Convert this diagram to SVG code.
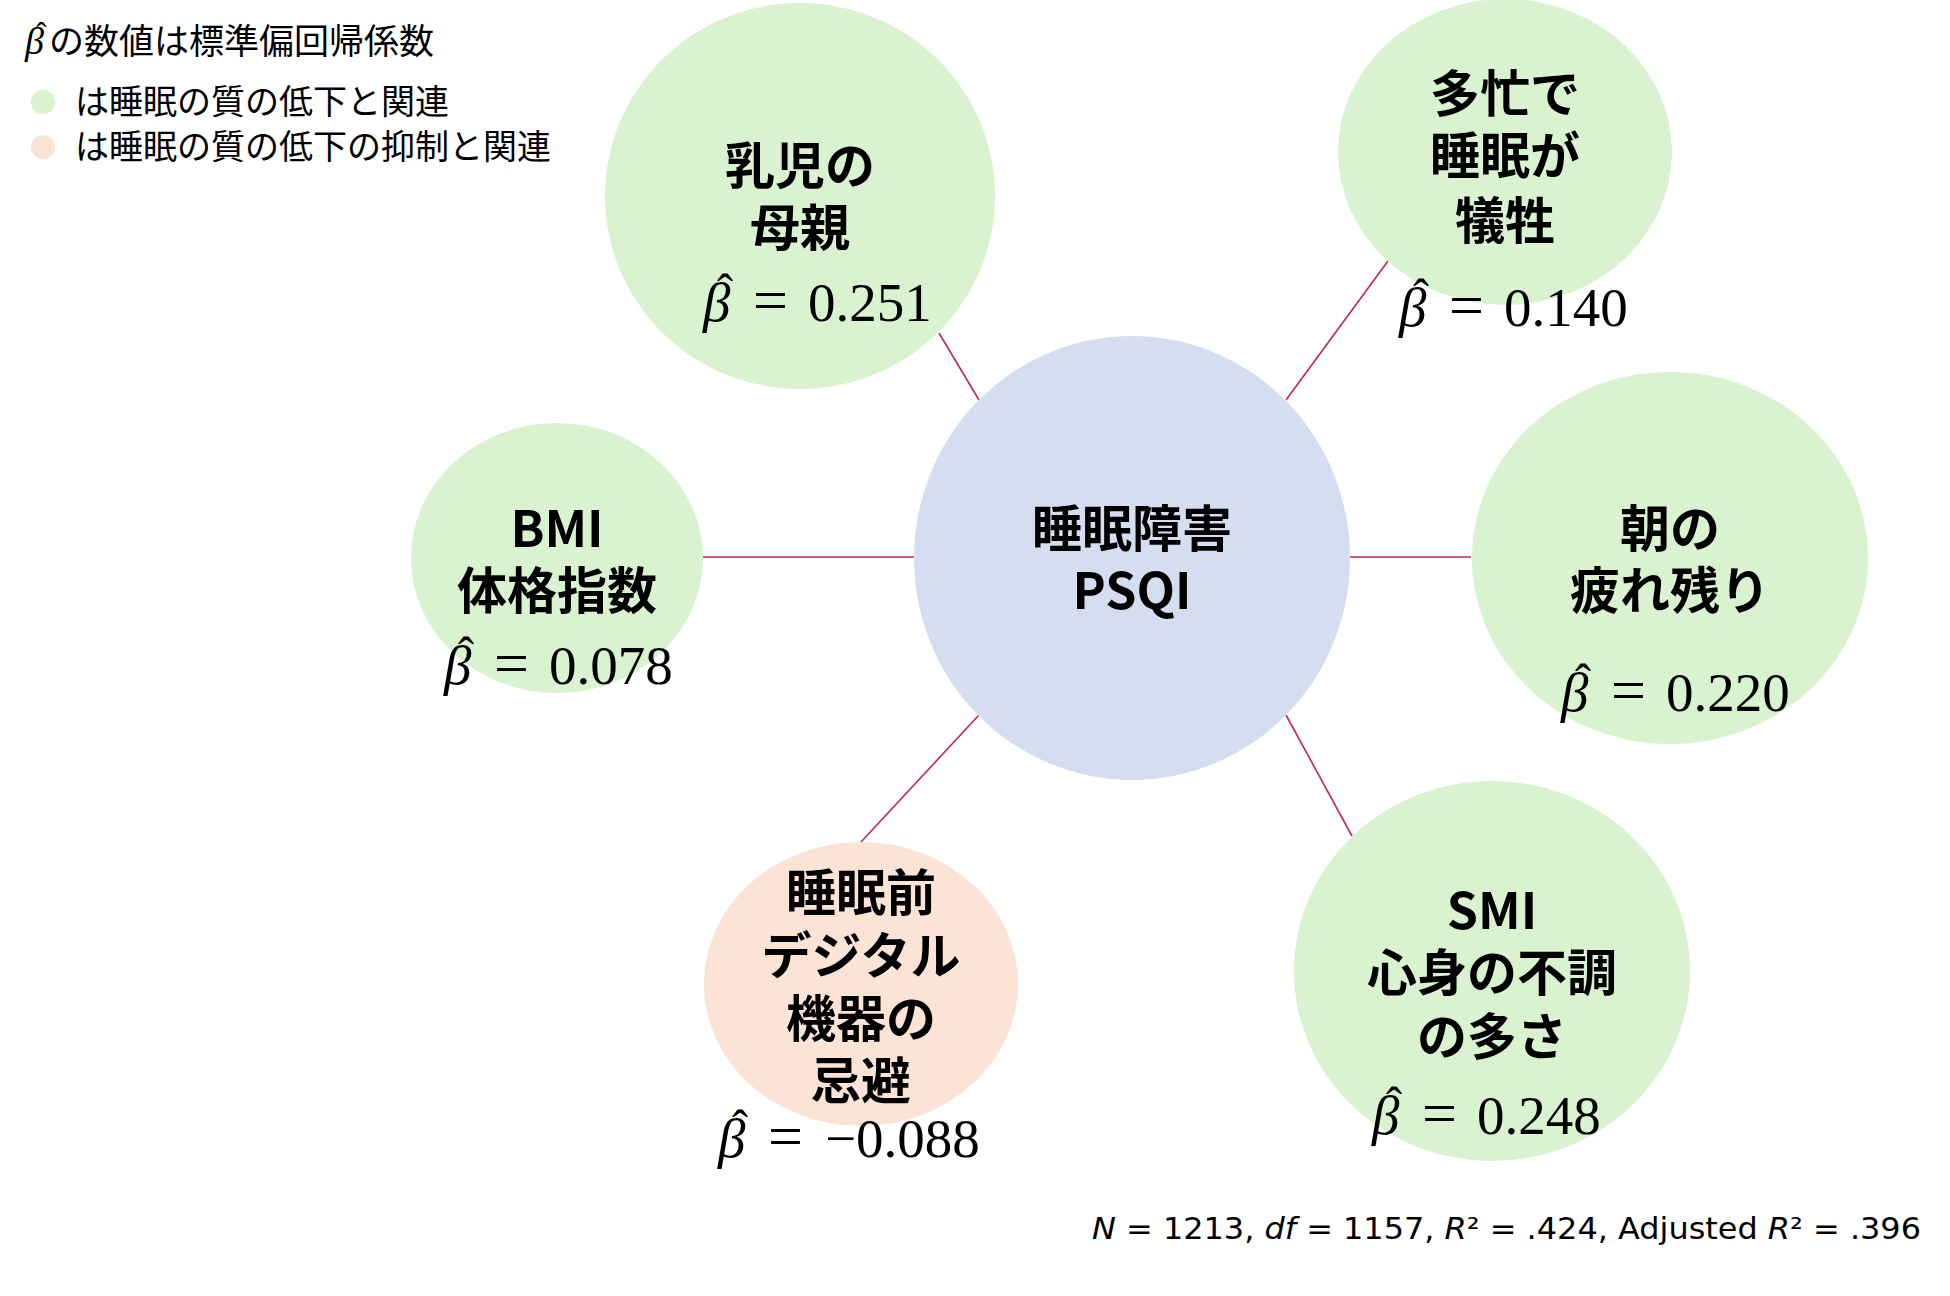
<svg xmlns="http://www.w3.org/2000/svg" width="1950" height="1296" viewBox="0 0 1950 1296">
<style>
.g{fill:#D9F2D0}
.p{fill:#FBE3D6}
.c{fill:#D4DEF0}
.lbl{font-family:"Noto Sans CJK JP","Noto Sans",sans-serif;font-weight:700;font-size:50px;fill:#000;text-anchor:middle}
.beta{font-family:"Liberation Serif","DejaVu Serif",serif;font-size:55px;fill:#000}
.bi{font-style:italic}
.h{font-size:48px}
.eq{font-size:62px}
.leg{font-family:"Noto Sans CJK JP","Noto Sans",sans-serif;font-size:34px;fill:#000}
.stat{font-family:"DejaVu Sans",sans-serif;font-size:30px;fill:#000}
.conn line{stroke:#C0284A;stroke-width:1.6}
</style>
<rect width="1950" height="1296" fill="#fff"/>
<g id="legend">
<text class="leg" x="25" y="54" style="font-size:35px"><tspan class="bi" style="font-family:'Liberation Serif',serif;font-size:38px">β</tspan><tspan x="36" y="44" style="font-family:'Liberation Serif',serif;font-size:32px">ˆ</tspan><tspan x="49" y="54">の数値は標準偏回帰係数</tspan></text>
<circle class="g" cx="43" cy="102" r="12"/>
<text class="leg" x="75" y="114">は睡眠の質の低下と関連</text>
<circle class="p" cx="43" cy="147" r="12"/>
<text class="leg" x="75" y="159">は睡眠の質の低下の抑制と関連</text>
</g>
<g id="connectors" class="conn">
<line x1="939" y1="333" x2="979" y2="400"/>
<line x1="1388" y1="261" x2="1286" y2="400"/>
<line x1="703" y1="557" x2="914" y2="557"/>
<line x1="1349" y1="557" x2="1471" y2="557"/>
<line x1="1286" y1="715" x2="1352" y2="836"/>
<line x1="979" y1="715" x2="861" y2="842"/>
</g>
<g id="center">
<ellipse class="c" cx="1132" cy="558" rx="218" ry="222"/>
<text class="lbl" x="1132" y="547">睡眠障害</text>
<text class="lbl" x="1132" y="609">PSQI</text>
</g>
<g id="node-mother">
<ellipse class="g" cx="800" cy="196" rx="195" ry="193"/>
<text class="lbl" x="800" y="184">乳児の</text>
<text class="lbl" x="800" y="246">母親</text>
<text class="beta" x="703" y="321"><tspan class="bi">β</tspan><tspan class="h" x="717" y="308">ˆ</tspan><tspan class="eq" x="753" y="321">=</tspan><tspan x="808">0.251</tspan></text>
</g>
<g id="node-busy">
<ellipse class="g" cx="1505" cy="152" rx="167" ry="153"/>
<text class="lbl" x="1505" y="112">多忙で</text>
<text class="lbl" x="1505" y="174">睡眠が</text>
<text class="lbl" x="1505" y="239">犠牲</text>
<text class="beta" x="1399" y="326"><tspan class="bi">β</tspan><tspan class="h" x="1413" y="313">ˆ</tspan><tspan class="eq" x="1449" y="326">=</tspan><tspan x="1504">0.140</tspan></text>
</g>
<g id="node-bmi">
<ellipse class="g" cx="557" cy="558" rx="146" ry="135"/>
<text class="lbl" x="557" y="547">BMI</text>
<text class="lbl" x="557" y="609">体格指数</text>
<text class="beta" x="444" y="684"><tspan class="bi">β</tspan><tspan class="h" x="458" y="671">ˆ</tspan><tspan class="eq" x="494" y="684">=</tspan><tspan x="549">0.078</tspan></text>
</g>
<g id="node-morning">
<ellipse class="g" cx="1670" cy="558" rx="198" ry="186"/>
<text class="lbl" x="1670" y="547">朝の</text>
<text class="lbl" x="1670" y="609">疲れ残り</text>
<text class="beta" x="1561" y="711"><tspan class="bi">β</tspan><tspan class="h" x="1575" y="698">ˆ</tspan><tspan class="eq" x="1611" y="711">=</tspan><tspan x="1666">0.220</tspan></text>
</g>
<g id="node-smi">
<ellipse class="g" cx="1492" cy="971" rx="198" ry="190"/>
<text class="lbl" x="1492" y="929">SMI</text>
<text class="lbl" x="1492" y="991">心身の不調</text>
<text class="lbl" x="1492" y="1055">の多さ</text>
<text class="beta" x="1372" y="1134"><tspan class="bi">β</tspan><tspan class="h" x="1386" y="1121">ˆ</tspan><tspan class="eq" x="1422" y="1134">=</tspan><tspan x="1477">0.248</tspan></text>
</g>
<g id="node-digital">
<ellipse class="p" cx="861" cy="984" rx="157" ry="142"/>
<text class="lbl" x="861" y="911">睡眠前</text>
<text class="lbl" x="861" y="974">デジタル</text>
<text class="lbl" x="861" y="1037">機器の</text>
<text class="lbl" x="861" y="1099">忌避</text>
<text class="beta" x="718" y="1157"><tspan class="bi">β</tspan><tspan class="h" x="732" y="1144">ˆ</tspan><tspan class="eq" x="768" y="1157">=</tspan><tspan x="825">−0.088</tspan></text>
</g>
<g id="stats">
<text class="stat" x="1092" y="1239" textLength="829" lengthAdjust="spacingAndGlyphs"><tspan font-style="italic">N</tspan> = 1213, <tspan font-style="italic">df</tspan> = 1157, <tspan font-style="italic">R</tspan>² = .424, Adjusted <tspan font-style="italic">R</tspan>² = .396</text>
</g>
</svg>
